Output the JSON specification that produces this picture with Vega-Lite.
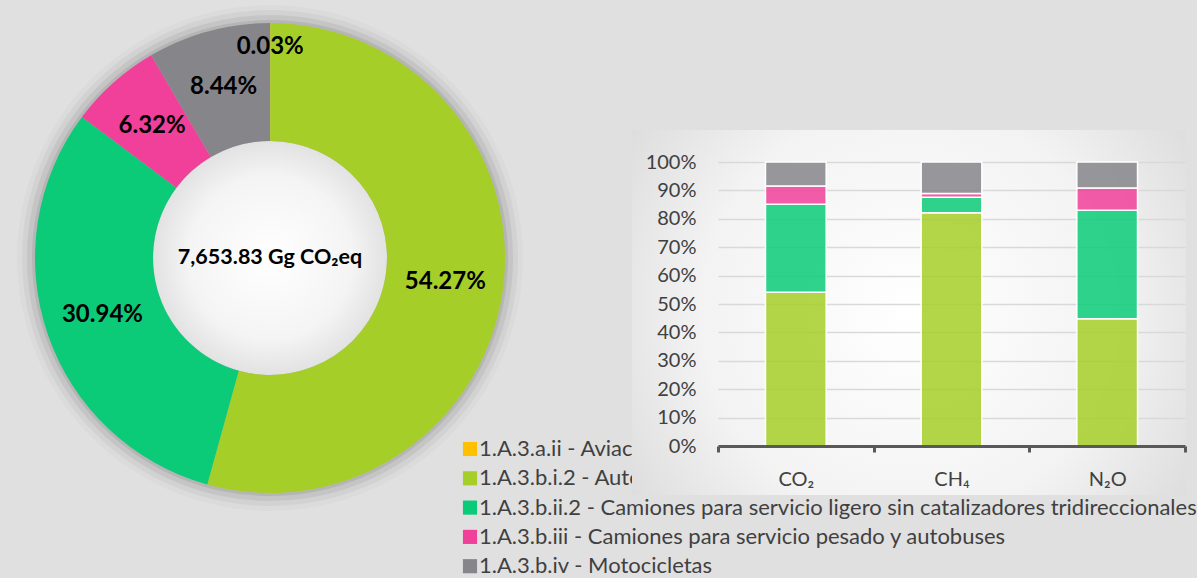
{
  "$schema": "https://vega.github.io/schema/vega-lite/v6.json",
  "background": "#e0e0e0",
  "padding": {"left": 0, "top": 5, "right": 0, "bottom": 0},
  "config": {"font": "Lato", "view": {"stroke": null}},
  "datasets": {
    "donut": [
      {"categoria": "1.A.3.a.ii - Aviación nacional", "pct": 0.0003},
      {"categoria": "1.A.3.b.i.2 - Automóviles sin catalizadores tridireccionales", "pct": 0.5427},
      {"categoria": "1.A.3.b.ii.2 - Camiones para servicio ligero sin catalizadores tridireccionales", "pct": 0.3094},
      {"categoria": "1.A.3.b.iii - Camiones para servicio pesado y autobuses", "pct": 0.0632},
      {"categoria": "1.A.3.b.iv - Motocicletas", "pct": 0.0844}
    ],
    "gases": [
      {"gas": "CO₂", "categoria": "1.A.3.a.ii - Aviación nacional", "valor": 0.03},
      {"gas": "CO₂", "categoria": "1.A.3.b.i.2 - Automóviles sin catalizadores tridireccionales", "valor": 54.1},
      {"gas": "CO₂", "categoria": "1.A.3.b.ii.2 - Camiones para servicio ligero sin catalizadores tridireccionales", "valor": 31.0},
      {"gas": "CO₂", "categoria": "1.A.3.b.iii - Camiones para servicio pesado y autobuses", "valor": 6.4},
      {"gas": "CO₂", "categoria": "1.A.3.b.iv - Motocicletas", "valor": 8.47},
      {"gas": "CH₄", "categoria": "1.A.3.a.ii - Aviación nacional", "valor": 0.01},
      {"gas": "CH₄", "categoria": "1.A.3.b.i.2 - Automóviles sin catalizadores tridireccionales", "valor": 82.1},
      {"gas": "CH₄", "categoria": "1.A.3.b.ii.2 - Camiones para servicio ligero sin catalizadores tridireccionales", "valor": 5.5},
      {"gas": "CH₄", "categoria": "1.A.3.b.iii - Camiones para servicio pesado y autobuses", "valor": 1.3},
      {"gas": "CH₄", "categoria": "1.A.3.b.iv - Motocicletas", "valor": 11.09},
      {"gas": "N₂O", "categoria": "1.A.3.a.ii - Aviación nacional", "valor": 0.02},
      {"gas": "N₂O", "categoria": "1.A.3.b.i.2 - Automóviles sin catalizadores tridireccionales", "valor": 44.8},
      {"gas": "N₂O", "categoria": "1.A.3.b.ii.2 - Camiones para servicio ligero sin catalizadores tridireccionales", "valor": 38.2},
      {"gas": "N₂O", "categoria": "1.A.3.b.iii - Camiones para servicio pesado y autobuses", "valor": 7.8},
      {"gas": "N₂O", "categoria": "1.A.3.b.iv - Motocicletas", "valor": 9.18}
    ],
    "circulo": [{"v": 1}]
  },
  "hconcat": [
    {
      "width": 540,
      "height": 256,
      "resolve": {"scale": {"theta": "independent"}},
      "layer": [
        {
          "data": {"name": "circulo"},
          "mark": {"type": "arc", "outerRadius": 253, "fill": "#000000", "opacity": 0.02},
          "encoding": {"theta": {"field": "v", "type": "quantitative", "scale": {"domain": [0, 1]}}}
        },
        {
          "data": {"name": "circulo"},
          "mark": {"type": "arc", "outerRadius": 248, "fill": "#000000", "opacity": 0.04},
          "encoding": {"theta": {"field": "v", "type": "quantitative", "scale": {"domain": [0, 1]}}}
        },
        {
          "data": {"name": "circulo"},
          "mark": {"type": "arc", "outerRadius": 243, "fill": "#000000", "opacity": 0.06},
          "encoding": {"theta": {"field": "v", "type": "quantitative", "scale": {"domain": [0, 1]}}}
        },
        {
          "data": {"name": "circulo"},
          "mark": {"type": "arc", "outerRadius": 238, "fill": "#000000", "opacity": 0.08},
          "encoding": {"theta": {"field": "v", "type": "quantitative", "scale": {"domain": [0, 1]}}}
        },
        {
          "data": {"name": "circulo"},
          "mark": {
            "type": "arc",
            "outerRadius": 117,
            "fill": {"gradient": "radial", "x1": 0.5, "y1": 0.5, "x2": 0.5, "y2": 0.5, "r1": 0, "r2": 0.5,
              "stops": [{"offset": 0, "color": "#ffffff"}, {"offset": 0.7, "color": "#f4f4f4"}, {"offset": 1, "color": "#e2e2e2"}]}
          },
          "encoding": {"theta": {"field": "v", "type": "quantitative", "scale": {"domain": [0, 1]}}}
        },
        {
          "data": {"name": "donut"},
          "encoding": {
            "theta": {"field": "pct", "type": "quantitative", "stack": true},
            "order": {"field": "categoria", "sort": "ascending"}
          },
          "layer": [
            {
              "mark": {"type": "arc", "outerRadius": 235, "innerRadius": 117},
              "encoding": {
                "color": {
                  "field": "categoria",
                  "type": "nominal",
                  "scale": {
                    "domain": [
                      "1.A.3.a.ii - Aviación nacional",
                      "1.A.3.b.i.2 - Automóviles sin catalizadores tridireccionales",
                      "1.A.3.b.ii.2 - Camiones para servicio ligero sin catalizadores tridireccionales",
                      "1.A.3.b.iii - Camiones para servicio pesado y autobuses",
                      "1.A.3.b.iv - Motocicletas"
                    ],
                    "range": ["#FFC000", "#A6CE28", "#0BCB78", "#F0409A", "#86858A"]
                  },
                  "legend": {
                    "orient": "none",
                    "legendX": 459,
                    "legendY": 308,
                    "padding": 0,
                    "title": null,
                    "symbolType": "square",
                    "symbolSize": 200,
                    "symbolStrokeWidth": 0,
                    "labelFont": "Lato",
                    "labelFontSize": 22,
                    "labelColor": "#404040",
                    "labelLimit": 1000,
                    "labelOffset": -2,
                    "rowPadding": 7.3
                  }
                }
              }
            },
            {
              "mark": {"type": "text", "radius": {"expr": "datum.pct < 0.001 ? 211 : 177"}, "font": "Lato", "fontSize": 24, "fontWeight": "bold", "color": "#000000"},
              "encoding": {"text": {"field": "pct", "type": "quantitative", "format": ".2%"}}
            }
          ]
        },
        {
          "data": {"values": [{"texto": "7,653.83 Gg CO₂eq"}]},
          "mark": {"type": "text", "font": "Lato", "fontSize": 21.5, "fontWeight": "bold", "color": "#000000"},
          "encoding": {"text": {"field": "texto", "type": "nominal"}}
        }
      ]
    },
    {
      "width": 554,
      "height": 365,
      "view": {
        "stroke": null,
        "fill": {"gradient": "radial", "x1": 0.5, "y1": 0.5, "x2": 0.5, "y2": 0.5, "r1": 0, "r2": 0.75,
          "stops": [{"offset": 0, "color": "#ffffff"}, {"offset": 0.5, "color": "#f3f3f3"}, {"offset": 1, "color": "#cfcfcf"}]}
      },
      "data": {"name": "gases"},
      "mark": {"type": "bar", "width": {"band": 0.39}, "stroke": "#ffffff", "strokeWidth": 1.5, "fillOpacity": 0.85},
      "encoding": {
        "x": {
          "field": "gas",
          "type": "nominal",
          "sort": null,
          "scale": {"range": [86, 553], "paddingInner": 0, "paddingOuter": 0},
          "axis": {
            "title": null,
            "orient": "bottom",
            "offset": -49,
            "zindex": 1,
            "grid": false,
            "domainColor": "#595959",
            "domainWidth": 3,
            "tickBand": "extent",
            "tickColor": "#595959",
            "tickWidth": 3,
            "tickSize": 6,
            "labelAngle": 0,
            "labelFont": "Lato",
            "labelFontSize": 20,
            "labelColor": "#404040",
            "labelPadding": 17
          }
        },
        "y": {
          "field": "valor",
          "type": "quantitative",
          "stack": "normalize",
          "scale": {"domain": [0, 1], "range": [316, 32]},
          "axis": {
            "title": null,
            "orient": "left",
            "offset": -86,
            "values": [0, 0.1, 0.2, 0.3, 0.4, 0.5, 0.6, 0.7, 0.8, 0.9, 1],
            "format": ".0%",
            "domain": false,
            "ticks": false,
            "labelPadding": 22,
            "labelFont": "Lato",
            "labelFontSize": 20,
            "labelColor": "#404040",
            "grid": true,
            "gridColor": "#d9d9d9",
            "gridWidth": 1.5
          }
        },
        "color": {"field": "categoria", "type": "nominal", "legend": null},
        "order": {"field": "categoria", "sort": "ascending"}
      }
    }
  ],
  "spacing": 92,
  "bounds": "flush",
  "resolve": {"legend": {"color": "independent"}}
}
